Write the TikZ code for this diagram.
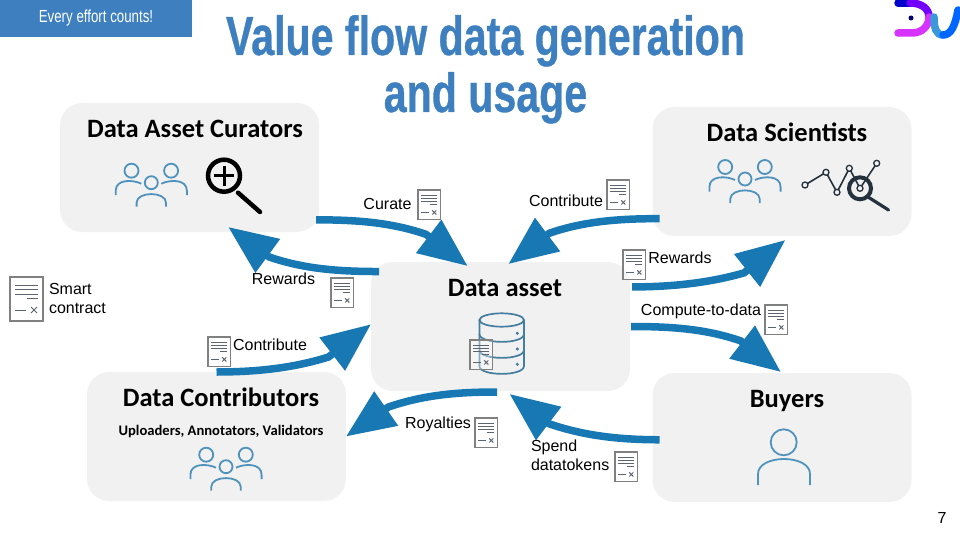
\documentclass[tikz,border=0pt]{standalone}
\usepackage{fontspec}
\usetikzlibrary{arrows.meta}
\usetikzlibrary{positioning}
\setmainfont{Liberation Sans}
\newfontfamily\headfont{Carlito}
\newfontfamily\titlefont{Liberation Sans}[FakeStretch=0.76]
\newfontfamily\titleheavy{Liberation Sans}[FakeStretch=0.748, FakeBold=0.6]
\definecolor{flowblue}{HTML}{1878B4}
\definecolor{titleblue}{HTML}{3D7FBF}
\definecolor{boxgray}{HTML}{F1F1F1}
\definecolor{iconblue}{HTML}{4F93BC}
\definecolor{docgray}{HTML}{808080}
\definecolor{darkink}{HTML}{25313D}
\begin{document}
\begin{tikzpicture}[x=1pt, y=-1pt]
    \tikzset{every node/.style={inner sep=0pt, outer sep=0pt},
            >={Triangle[length=49pt, width=40pt]},
            flow/.style={->, draw=flowblue, line width=7.5pt},
            groupbox/.style={fill=boxgray, rounded corners=22pt, minimum width=259pt, minimum height=129pt},
            heading/.style={anchor=base, font=\headfont\bfseries\fontsize{26.5}{30}\selectfont},
            flowlabel/.style={anchor=base, font=\fontsize{16}{19}\selectfont},
            slidetitle/.style={anchor=base, text=titleblue, font=\titleheavy\bfseries\fontsize{55}{60}\selectfont},
            contract/.pic={
                \draw[docgray, line width=1.1pt, fill=white, fill opacity=.35] (0,0) rectangle (33,44);
                \foreach \y in {8,12.5,17} \draw[darkink!75, line width=.8pt] (5,\y) -- (28,\y);
                \draw[darkink!75, line width=.8pt] (17,21.5) -- (28,21.5);
                \draw[darkink!75, line width=1pt] (5,33) -- (16,33);
                \draw[darkink!75, line width=1pt] (21,30) -- (27,36) (27,30) -- (21,36);
            },
            person/.style={iconblue, line width=1.8pt},
            people/.pic={
                \draw[person] (0,0) circle (6.5pt) (-19.8,-12) circle (7pt) (19.8,-12) circle (7pt);
                \draw[person] (-14.7,24) -- (-14.7,20) .. controls (-14.7,8.5) and (14.7,8.5) .. (14.7,20) -- (14.7,24);
                \draw[person] (-35.6,12.5) -- (-35.6,8) .. controls (-35.6,-4) and (-18,-3) .. (-10,1);
                \draw[person] (35.6,12.5) -- (35.6,8) .. controls (35.6,-4) and (18,-3) .. (10,1);
            }}
    \useasboundingbox (0,0) rectangle (960,540);
    % corner tag and title
    \node[fill=titleblue, minimum width=192pt, minimum height=37pt, anchor=north west] (tag) at (0,0) {};
    \node[text=white, font=\titlefont\fontsize{17.5}{20}\selectfont] (tagtext) at (96,18) {Every effort counts!};
    \node[slidetitle] (title1) at (485.5,55) {Value flow data generation};
    \node[slidetitle] (title2) at (485.5,112) {and usage};
    % logo
    \draw[line width=7.5pt, line cap=round, blue!80!black] (898,3) -- (910,3);
    \draw[line width=7.5pt, line cap=round, blue!55!magenta] (910,3) .. controls (922,3) and (929,9) .. (929,17);
    \draw[line width=7.5pt, line cap=round, blue!20!magenta!80!white] (929,17) .. controls (929,26) and (922,33) .. (912,33) -- (898,33);
    \draw[line width=7.5pt, line cap=round, cyan!70!blue!80!white] (934,17) .. controls (934,28) and (936,35) .. (943,35);
    \draw[line width=7.5pt, line cap=round, blue!60!cyan] (943,35) .. controls (951,35) and (955,26) .. (958,10);
    \fill[blue!45!black] (911,18) circle (2.5pt);
    % the five groups
    \node[groupbox] (curators) at (189.5,167.5) {};
    \node[groupbox] (scientists) at (782,171.5) {};
    \node[groupbox] (asset) at (500.5,326.5) {};
    \node[groupbox] (contributors) at (216.5,436.5) {};
    \node[groupbox] (buyers) at (782,437.5) {};
    \node[heading] (curatorstext) at (195,137.5) {Data Asset Curators};
    \node[heading] (scientiststext) at (787,141.5) {Data Scientists};
    \node[heading] (assettext) at (505,296) {Data asset};
    \node[heading] (contributorstext) at (221,406.5) {Data Contributors};
    \node[heading] (buyerstext) at (787,407) {Buyers};
    \node[anchor=base, font=\headfont\bfseries\fontsize{14.6}{16}\selectfont] (rolestext) at (221,435) {Uploaders, Annotators, Validators};
    % icons
    \pic at (151.3,182.7) {people};
    \pic at (745,179) {people};
    \pic at (226,466.7) {people};
    \draw[person] (783.7,442.3) circle (13pt);
    \draw[person] (758,485) -- (758,474) .. controls (758,454) and (810,454) .. (810,474) -- (810,485);
    \draw[black, line width=4.5pt] (224,175.7) circle (16pt);
    \draw[black, line width=3pt] (214,175.7) -- (234,175.7) (224,165.7) -- (224,185.7);
    \draw[black, line width=4.5pt, line cap=round] (238,192.7) -- (260,212);
    \draw[darkink, line width=1.6pt] (805,185) -- (826,172.3) -- (837,192.3) -- (849.3,168.3) -- (860,188.3) -- (876.7,163.3);
    \foreach \x/\y in {805/185, 826/172.3, 837/192.3, 849.3/168.3, 860/188.3, 876.7/163.3}
        \draw[darkink, line width=1.3pt, fill=boxgray] (\x,\y) circle (3pt);
    \draw[darkink, line width=4pt] (860,188.3) circle (11pt);
    \draw[darkink, line width=3.2pt, line cap=round] (868,197) -- (888.5,210);
    \draw[iconblue!85!black, line width=1.7pt] (501.7,320) ellipse [x radius=22.3pt, y radius=6.7pt];
    \draw[iconblue!85!black, line width=1.7pt] (479.4,320) -- (479.4,366) .. controls (479.4,376.5) and (524,376.5) .. (524,366) -- (524,320);
    \foreach \y in {334,350} \draw[iconblue!85!black, line width=1.7pt] (479.4,\y) .. controls (479.4,\y+10.5) and (524,\y+10.5) .. (524,\y);
    \foreach \y in {333.3,349,364.3} \fill[iconblue!85!black] (517.3,\y) circle (1.7pt);
    % smart contract marks
    \pic at (10,277) {contract};
    \pic[scale=.68] at (418,190) {contract};
    \pic[scale=.68] at (607,180) {contract};
    \pic[scale=.68] at (623,250) {contract};
    \pic[scale=.68] at (765,305) {contract};
    \pic[scale=.68] at (331,278) {contract};
    \pic[scale=.68] at (208,337) {contract};
    \pic[scale=.68] at (470,340) {contract};
    \pic[scale=.68] at (475,418) {contract};
    \pic[scale=.68] at (615,452) {contract};
    % flows
    \draw[flow] ([xshift=-3pt]curators.-22.4) .. controls +(40,0) and +(-35,-12) .. +(110,14.5) -- ([yshift=-4pt]asset.117.4);
    \draw[flow] ([xshift=8pt]asset.157.4) .. controls +(-40,0) and +(35,12) .. +(-109.7,-14.5) -- ([yshift=5pt]curators.-59.2);
    \draw[flow] ([xshift=7pt]scientists.200) .. controls +(-40,0) and +(35,-12) .. +(-110,14.5) -- ([yshift=-2pt]asset.83.4);
    \draw[flow] ([xshift=2pt]asset.17.6) .. controls +(40,0) and +(-35,10) .. +(112,-14) -- ([yshift=-4pt]scientists.-87.3);
    \draw[flow] ([xshift=1pt]asset.0) .. controls +(40,0) and +(-35,-12) .. +(109.5,14.3) -- ([yshift=1pt]buyers.91);
    \draw[flow] ([xshift=7pt]buyers.181) .. controls +(-40,0) and +(35,12) .. +(-110.5,-16) -- ([yshift=-3pt]asset.-82.5);
    \draw[flow] ([yshift=-1pt]asset.-93) .. controls +(-40,0) and +(35,-12) .. +(-108.7,15) -- (contributors.0);
    \draw[flow] (contributors.90) .. controls +(40,0) and +(-35,11) .. +(112,-15) -- (asset.179);
    % labels
    \node[flowlabel] (curate) at (387.5,209) {Curate};
    \node[flowlabel] (rewardsleft) at (283.5,284) {Rewards};
    \node[flowlabel] (contributeright) at (566,206) {Contribute};
    \node[flowlabel] (rewardsright) at (680,263.5) {Rewards};
    \node[flowlabel] (compute) at (701,315) {Compute-to-data};
    \node[flowlabel] (contributeleft) at (270,350.5) {Contribute};
    \node[flowlabel] (royalties) at (438,428) {Royalties};
    \node[flowlabel, anchor=west, align=left] (spend) at (531,455.5) {Spend\\datatokens};
    \node[flowlabel, anchor=west, align=left] (smart) at (49,298) {Smart\\contract};
    \node[flowlabel] (pagenum) at (942,523) {7};
\end{tikzpicture}
\end{document}
